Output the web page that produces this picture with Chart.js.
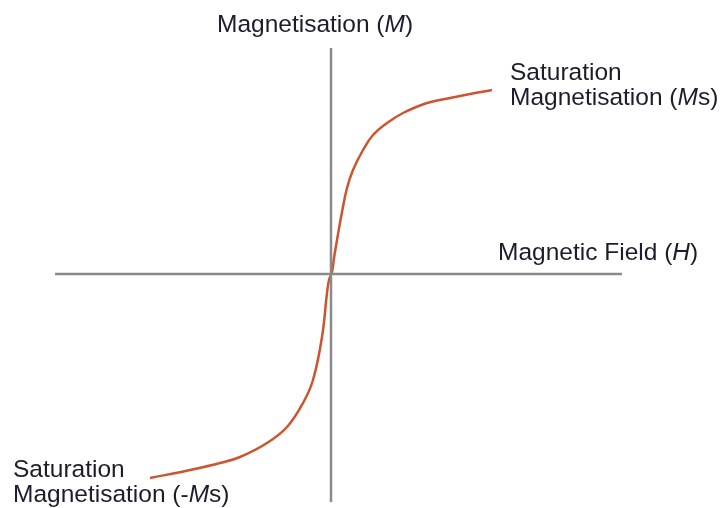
<!DOCTYPE html>
<html>
<head>
<meta charset="utf-8">
<script src="https://cdn.jsdelivr.net/npm/chart.js@4/dist/chart.umd.min.js"></script>
<style>
  html, body { margin: 0; padding: 0; background: #fff; }
  #wrap { width: 726px; height: 508px; }
</style>
</head>
<body>
<div id="wrap"><canvas id="magCtx"></canvas></div>
<script>
// field H and magnetisation M (arbitrary units)
const fieldH = [-18.1, -14.1, -11.1, -9.1, -6.4, -4.4, -2.8, -1.8, -0.9, -0.4, -0.2,
                0.1, 0.3, 0.6, 1.1, 1.6, 2.2, 3.2, 4.2, 5.6, 7.2, 9.6, 11.9, 13.9, 16.1];
const magM = [-20.4, -19.6, -18.9, -18.3, -16.9, -15.3, -12.9, -10.6, -6.3, -1.9, -0.6,
              0.2, 1.6, 3.4, 6.2, 8.6, 10.4, 12.4, 13.9, 15.1, 16.1, 17.1, 17.6, 18.0, 18.4];

// axis extents
const hRange = [-27.6, 29.1];
const mRange = [-22.8, 22.6];

const labelColor = "#1c1c2c";
const fontName = "'Liberation Sans', Arial, sans-serif";

/// draws the annotation texts, parts in italic where needed
function drawParts(ctx, parts, x, y) {
    for (const p of parts) {
        ctx.font = (p.i ? "italic " : "") + "24.5px " + fontName;
        ctx.fillText(p.t, x, y);
        x += ctx.measureText(p.t).width;
    }
}

const labelPlugin = {
    id: "labels",
    afterDraw(chart) {
        const ctx = chart.ctx;
        ctx.save();
        ctx.fillStyle = labelColor;
        ctx.textBaseline = "alphabetic";
        ctx.textAlign = "left";
        drawParts(ctx, [{t: "Magnetisation ("}, {t: "M", i: true}, {t: ")"}], 217, 32);
        drawParts(ctx, [{t: "Saturation"}], 510, 80);
        drawParts(ctx, [{t: "Magnetisation ("}, {t: "M", i: true}, {t: "s)"}], 510, 105);
        drawParts(ctx, [{t: "Magnetic Field ("}, {t: "H", i: true}, {t: ")"}], 498, 260);
        drawParts(ctx, [{t: "Saturation"}], 13, 477);
        drawParts(ctx, [{t: "Magnetisation (-"}, {t: "M", i: true}, {t: "s)"}], 13, 502);
        ctx.restore();
    }
};

const magChart = new Chart(document.getElementById("magCtx"), {
    type: "scatter",
    data: {
        datasets: [
            {
                label: "H axis",
                data: [{x: hRange[0], y: 0}, {x: hRange[1], y: 0}],
                showLine: true,
                borderColor: "#8a8a8a",
                borderWidth: 2.5,
                pointRadius: 0
            },
            {
                label: "M axis",
                data: [{x: 0, y: mRange[0]}, {x: 0, y: mRange[1]}],
                showLine: true,
                borderColor: "#8a8a8a",
                borderWidth: 2.5,
                pointRadius: 0
            },
            {
                label: "M(H)",
                data: fieldH.map((h, i) => ({x: h, y: magM[i]})),
                showLine: true,
                borderColor: "#cc5530",
                borderWidth: 2.5,
                pointRadius: 0,
                tension: 0.4
            }
        ]
    },
    options: {
        responsive: true,
        maintainAspectRatio: false,
        animation: false,
        layout: { padding: { left: 55, right: 104, top: 48, bottom: 6 } },
        plugins: { legend: { display: false }, tooltip: { enabled: false } },
        scales: {
            x: { type: "linear", min: hRange[0], max: hRange[1], display: false },
            y: { type: "linear", min: mRange[0], max: mRange[1], display: false }
        }
    },
    plugins: [labelPlugin]
});
</script>
</body>
</html>
